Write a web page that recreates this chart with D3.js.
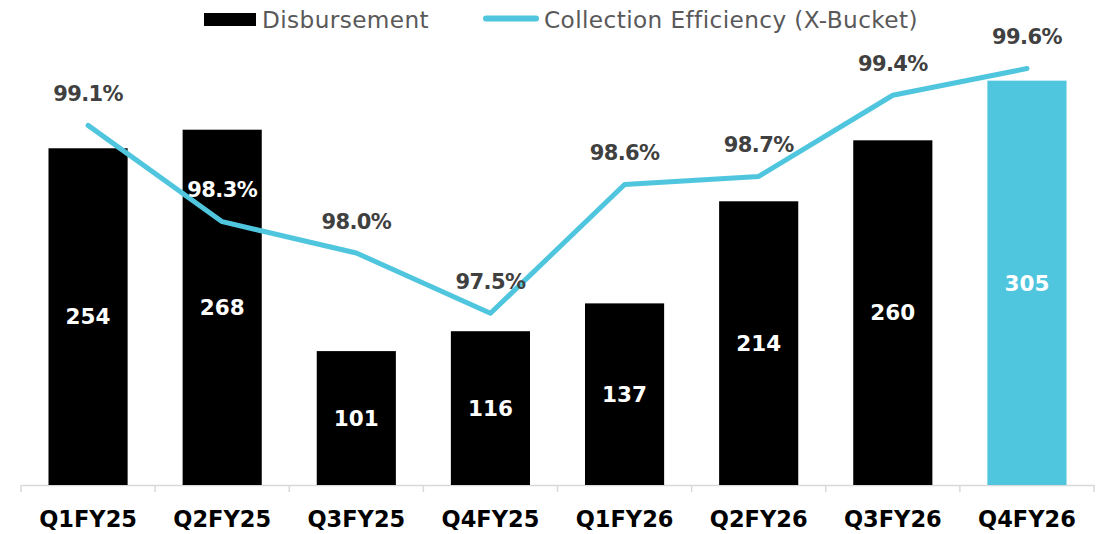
<!DOCTYPE html>
<html><head><meta charset="utf-8">
<script src="https://cdn.jsdelivr.net/npm/d3@7"></script>
<style>body{margin:0;background:#fff}svg{display:block}</style>
</head><body>
<svg id="c" width="1106" height="534"></svg>
<script>
const categories = ["Q1FY25","Q2FY25","Q3FY25","Q4FY25","Q1FY26","Q2FY26","Q3FY26","Q4FY26"];
const disbursement = [254, 268, 101, 116, 137, 214, 260, 305];
const efficiency = [99.1, 98.27, 98.0, 97.48, 98.59, 98.66, 99.36, 99.59];
const efficiencyLabels = ["99.1%","98.3%","98.0%","97.5%","98.6%","98.7%","99.4%","99.6%"];
const highlight = ["Q4FY26"];
const legendNames = ["Disbursement","Collection Efficiency (X-Bucket)"];

const FONT = "'DejaVu Sans', sans-serif";
const BLUE = "#4FC6DE";
const svg = d3.select("#c");
const x = d3.scaleBand().domain(categories).range([21, 1094]).paddingInner(0.41).paddingOuter(0.205);
const y = d3.scaleLinear().domain([0, 350]).range([485, 21]);
const y2 = d3.scaleLinear().domain([96, 100]).range([485, 21]);

// axis
const ax = svg.append("g").attr("transform","translate(0,485)")
  .call(d3.axisBottom(x).tickSize(0).tickPadding(26));
ax.select(".domain").attr("stroke","#d9d9d9").attr("stroke-width",1.5);
ax.selectAll(".tick text").attr("font-family",FONT).attr("font-weight","bold")
  .attr("font-size",22.5).attr("fill","#000");
const step = x.step();
const bounds = d3.range(categories.length+1).map(i => x.range()[0] + i*step);
ax.selectAll(".bt").data(bounds).join("line").attr("class","bt")
  .attr("x1",d=>d).attr("x2",d=>d).attr("y1",0).attr("y2",7)
  .attr("stroke","#d9d9d9").attr("stroke-width",1.5);

// bars
svg.append("g").selectAll("rect").data(categories).join("rect")
  .attr("x",d=>x(d)).attr("width",x.bandwidth())
  .attr("y",(d,i)=>y(disbursement[i])).attr("height",(d,i)=>y(0)-y(disbursement[i]))
  .attr("fill",d=>highlight.includes(d)?BLUE:"#000");
svg.append("g").selectAll("text").data(categories).join("text")
  .attr("x",d=>x(d)+x.bandwidth()/2)
  .attr("y",(d,i)=>(y(disbursement[i])+y(0))/2)
  .attr("dy","0.36em").attr("text-anchor","middle")
  .attr("font-family",FONT).attr("font-weight","bold").attr("font-size",21.5)
  .attr("fill","#fff").text((d,i)=>disbursement[i]);

// line
const line = d3.line().x((d,i)=>x(categories[i])+x.bandwidth()/2).y(d=>y2(d));
svg.append("path").datum(efficiency).attr("d",line).attr("fill","none")
  .attr("stroke",BLUE).attr("stroke-width",5).attr("stroke-linecap","round").attr("stroke-linejoin","round");
svg.append("g").selectAll("text").data(efficiency).join("text")
  .attr("x",(d,i)=>x(categories[i])+x.bandwidth()/2)
  .attr("y",d=>y2(d)-32).attr("dy","0.36em").attr("text-anchor","middle")
  .attr("font-family",FONT).attr("font-weight","bold").attr("font-size",21)
  .attr("letter-spacing",-0.6)
  .attr("fill",(d,i)=> (y2(d)-32) > y(disbursement[i]) ? "#fff" : "#404040")
  .text((d,i)=>efficiencyLabels[i]);

// legend
const lg = svg.append("g");
lg.append("rect").attr("x",204).attr("y",13).attr("width",52).attr("height",13).attr("fill","#000");
lg.append("text").attr("x",262).attr("y",19.5).attr("dy","0.36em").attr("font-family",FONT)
  .attr("font-size",23.2).attr("letter-spacing",0.4).attr("fill","#595959").text(legendNames[0]);
lg.append("line").attr("x1",486).attr("x2",536).attr("y1",18.5).attr("y2",18.5)
  .attr("stroke",BLUE).attr("stroke-width",6).attr("stroke-linecap","round");
lg.append("text").attr("x",544).attr("y",19.5).attr("dy","0.36em").attr("font-family",FONT)
  .attr("font-size",23.2).attr("letter-spacing",0.4).attr("fill","#595959").text(legendNames[1]);
</script>
</body></html>
